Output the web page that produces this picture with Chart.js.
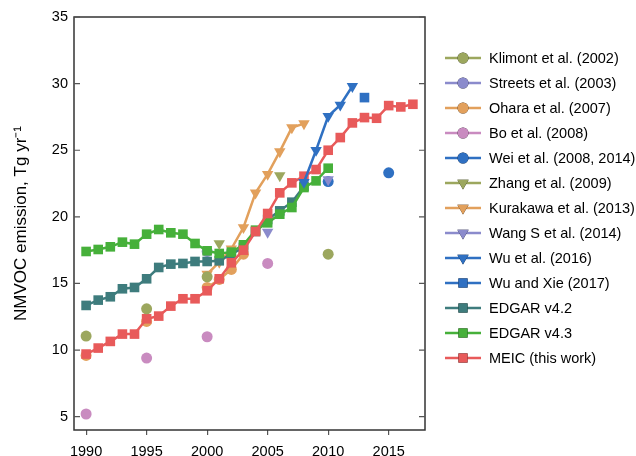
<!DOCTYPE html>
<html>
<head>
<meta charset="utf-8">
<script src="https://cdn.jsdelivr.net/npm/chart.js@4.4.1/dist/chart.umd.min.js"></script>
<style>
  html, body { margin: 0; padding: 0; background: #fff; }
  #wrap { width: 636px; height: 456px; position: relative; }
</style>
</head>
<body>
<div id="wrap"><canvas id="chart"></canvas></div>
<script>
// NMVOC emission estimates for China, Tg/yr
var xTicks = [1990, 1995, 2000, 2005, 2010, 2015];
var yTicks = [5, 10, 15, 20, 25, 30, 35];

var klimontYears = [1990, 1995, 2000, 2010];
var klimontVals  = [11.05, 13.1, 15.5, 17.2];

var streetsYears = [2000];
var streetsVals  = [17.4];

// nulls break the line where no orange segment shows
var oharaYears = [1990, 1992, 1995, 1997, 2000, 2001, 2002, 2003];
var oharaVals  = [9.6, null, 12.15, null, 14.7, 15.3, 16.05, 17.2];

var boYears = [1990, 1995, 2000, 2005];
var boVals  = [5.2, 9.4, 11.0, 16.5];

var weiYears = [2010, 2015];
var weiVals  = [22.65, 23.3];

var zhangYears = [2001, 2006];
var zhangVals  = [18.0, 23.1];

var kurokawaYears = [2000, 2001, 2002, 2003, 2004, 2005, 2006, 2007, 2008];
var kurokawaVals  = [15.7, 16.6, 17.6, 19.2, 21.8, 23.2, 24.9, 26.7, 27.0];

var wangYears = [2005, 2010];
var wangVals  = [18.85, 22.8];

var wuYears = [2008, 2009, 2010, 2011, 2012];
var wuVals  = [22.6, 25.0, 27.55, 28.4, 29.8];

var wuXieYears = [2013];
var wuXieVals  = [28.95];

var edgar42Years = [1990, 1991, 1992, 1993, 1994, 1995, 1996, 1997, 1998, 1999,
                    2000, 2001, 2002, 2003, 2004, 2005, 2006, 2007, 2008];
var edgar42Vals  = [13.35, 13.75, 14.0, 14.6, 14.7, 15.35, 16.2, 16.45, 16.5, 16.65,
                    16.65, 16.7, 17.2, 17.7, 18.9, 19.8, 20.45, 21.1, 22.3];

var edgar43Years = [1990, 1991, 1992, 1993, 1994, 1995, 1996, 1997, 1998, 1999,
                    2000, 2001, 2002, 2003, 2004, 2005, 2006, 2007, 2008, 2009, 2010];
var edgar43Vals  = [17.4, 17.55, 17.75, 18.1, 17.95, 18.7, 19.05, 18.8, 18.7, 18.0,
                    17.45, 17.25, 17.35, 17.9, 19.0, 19.55, 20.2, 20.7, 22.2, 22.7, 23.65];

var meicYears = [1990, 1991, 1992, 1993, 1994, 1995, 1996, 1997, 1998, 1999,
                 2000, 2001, 2002, 2003, 2004, 2005, 2006, 2007, 2008, 2009,
                 2010, 2011, 2012, 2013, 2014, 2015, 2016, 2017];
var meicVals  = [9.7, 10.15, 10.65, 11.2, 11.2, 12.35, 12.55, 13.3, 13.85, 13.85,
                 14.45, 15.35, 16.55, 17.5, 18.9, 20.25, 21.8, 22.55, 23.05, 23.55,
                 25.0, 25.95, 27.05, 27.45, 27.4, 28.35, 28.25, 28.45];

var OLIVE = '#9ca75e', PURPLE = '#8b8bcc', ORANGE = '#e2a05c', PINK = '#c98bc0',
    BLUE = '#2f70c2', TEAL = '#3e7c7d', GREEN = '#46b03a', RED = '#e85a5a';

function pts(xs, ys) {
  return xs.map(function(x, i) { return { x: x, y: ys[i] }; });
}

function series(label, xs, ys, color, style, line, order) {
  var r = style === 'circle' ? 5.5 : (style === 'rect' ? 6.8 : 6.6);
  return {
    label: label,
    data: pts(xs, ys),
    borderColor: color,
    backgroundColor: color,
    pointBackgroundColor: color,
    pointBorderColor: color,
    pointBorderWidth: 0,
    pointStyle: style,
    pointRotation: style === 'triangle' ? 180 : 0,
    pointRadius: r,
    borderWidth: 2.5,
    showLine: line,
    spanGaps: false,
    tension: 0,
    order: order
  };
}

var datasets = [
  series('Klimont et al. (2002)', klimontYears, klimontVals, OLIVE, 'circle', false, 2),
  series('Streets et al. (2003)', streetsYears, streetsVals, PURPLE, 'circle', false, 12),
  series('Ohara et al. (2007)', oharaYears, oharaVals, ORANGE, 'circle', true, 11),
  series('Bo et al. (2008)', boYears, boVals, PINK, 'circle', false, 3),
  series('Wei et al. (2008, 2014)', weiYears, weiVals, BLUE, 'circle', false, 5),
  series('Zhang et al. (2009)', zhangYears, zhangVals, OLIVE, 'triangle', false, 3),
  series('Kurakawa et al. (2013)', kurokawaYears, kurokawaVals, ORANGE, 'triangle', true, 9),
  series('Wang S et al. (2014)', wangYears, wangVals, PURPLE, 'triangle', false, 4),
  series('Wu et al. (2016)', wuYears, wuVals, BLUE, 'triangle', true, 1),
  series('Wu and Xie (2017)', wuXieYears, wuXieVals, BLUE, 'rect', false, 1),
  series('EDGAR v4.2', edgar42Years, edgar42Vals, TEAL, 'rect', true, 8),
  series('EDGAR v4.3', edgar43Years, edgar43Vals, GREEN, 'rect', true, 7),
  series('MEIC (this work)', meicYears, meicVals, RED, 'rect', true, 6)
];

// frame, inward y ticks and line+marker legend
var framePlugin = {
  id: 'frame',
  afterDraw: function(chart) {
    var ctx = chart.ctx, a = chart.chartArea;
    var ys = chart.scales.y;
    ctx.save();
    ctx.strokeStyle = '#333';
    ctx.lineWidth = 1.5;
    ctx.strokeRect(a.left, a.top, a.right - a.left, a.bottom - a.top);
    ctx.lineWidth = 1.2;
    ctx.strokeStyle = '#555';
    yTicks.forEach(function(v) {
      var py = ys.getPixelForValue(v);
      ctx.beginPath();
      ctx.moveTo(a.left, py); ctx.lineTo(a.left + 6, py);
      ctx.moveTo(a.right, py); ctx.lineTo(a.right - 6, py);
      ctx.stroke();
    });

    var lx = 445, ly = 58, step = 25;
    ctx.font = '14.5px "Liberation Sans", Arial, sans-serif';
    ctx.textBaseline = 'middle';
    ctx.textAlign = 'left';
    datasets.forEach(function(ds, i) {
      var y = ly + i * step;
      ctx.strokeStyle = ds.borderColor;
      ctx.lineWidth = 2.5;
      ctx.beginPath();
      ctx.moveTo(lx, y); ctx.lineTo(lx + 36, y);
      ctx.stroke();
      Chart.helpers.drawPoint(ctx, {
        pointStyle: ds.pointStyle,
        rotation: ds.pointRotation,
        radius: ds.pointStyle === 'circle' ? 5.5 : 6.5,
        borderWidth: 0
      }, lx + 18, y);
      ctx.fillStyle = ds.borderColor;
      ctx.fill();
      ctx.fillStyle = '#000';
      ctx.fillText(ds.label, 489, y + 1);
    });
    ctx.restore();
  }
};

var tickFont = { family: '"Liberation Sans", Arial, sans-serif', size: 14.5 };

new Chart(document.getElementById('chart'), {
  type: 'line',
  data: { datasets: datasets },
  options: {
    responsive: true,
    maintainAspectRatio: false,
    animation: false,
    layout: { padding: { top: 17, right: 211, left: 0, bottom: 0 } },
    plugins: {
      legend: { display: false },
      tooltip: { enabled: false }
    },
    scales: {
      x: {
        type: 'linear',
        min: 1989,
        max: 2018,
        afterBuildTicks: function(scale) {
          scale.ticks = xTicks.map(function(v) { return { value: v }; });
        },
        afterFit: function(scale) { scale.height = 26; },
        grid: { display: true, drawOnChartArea: false, drawTicks: true, tickLength: 5, color: '#555', lineWidth: 1.2 },
        border: { display: false },
        ticks: { color: '#000', font: tickFont, padding: 8, maxRotation: 0,
                 callback: function(v) { return String(v); } }
      },
      y: {
        min: 4,
        max: 35,
        afterBuildTicks: function(scale) {
          scale.ticks = yTicks.map(function(v) { return { value: v }; });
        },
        afterFit: function(scale) { scale.width = 74; },
        grid: { display: false, drawTicks: false },
        border: { display: false },
        ticks: { color: '#000', font: tickFont, padding: 6 },
        title: {
          display: true,
          text: 'NMVOC emission, Tg yr\u207B\u00B9',
          color: '#000',
          font: { family: '"Liberation Sans", Arial, sans-serif', size: 17 },
          padding: { top: 11, bottom: 0 }
        }
      }
    }
  },
  plugins: [framePlugin]
});
</script>
</body>
</html>
